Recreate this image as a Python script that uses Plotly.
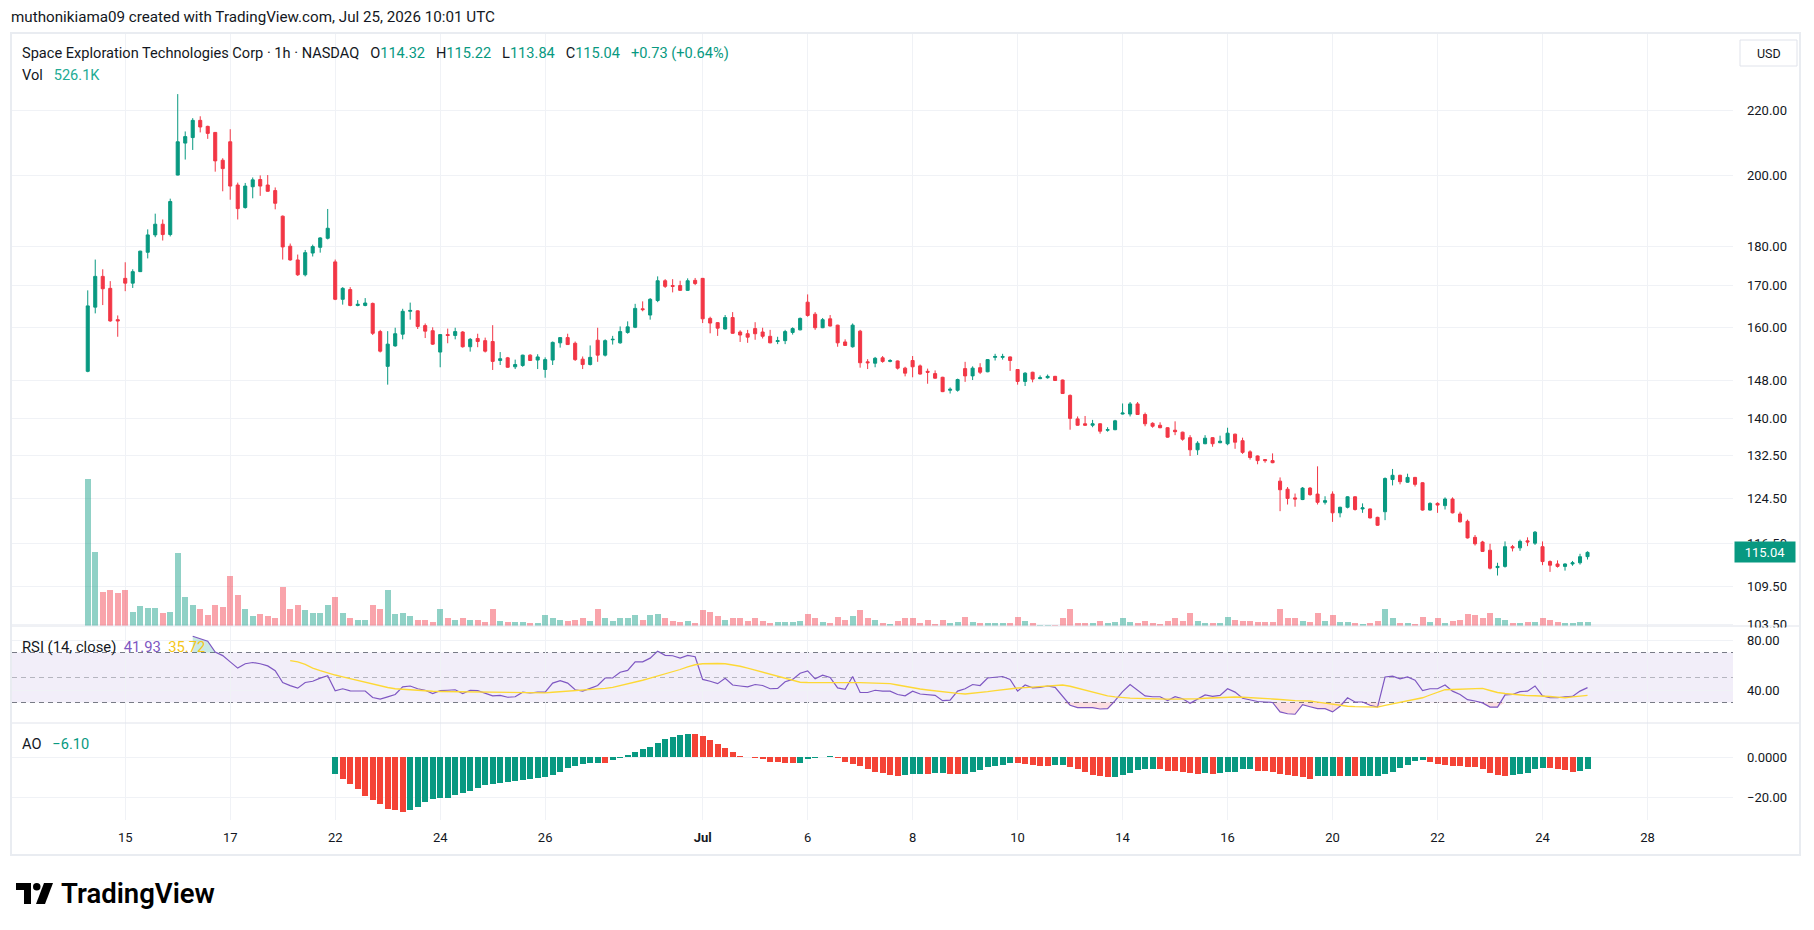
import math
import plotly.graph_objects as go

# ------------------------------------------------------------------ data
bar_index = list(range(201))

open_ = [
    150.0, 164.8, 172.4, 169.4, 161.8, 171.9, 170.7, 173.6, 178.6, 183.2,
    186.1, 183.3, 200.0, 209.6, 211.3, 216.7, 214.8, 212.9, 204.4, 210.0,
    197.1, 190.7, 196.6, 198.7, 197.1, 195.5, 188.3, 180.2, 176.6, 172.8,
    178.4, 179.9, 182.3, 176.1, 166.7, 169.1, 165.2, 165.2, 165.7, 159.0,
    151.1, 155.7, 158.4, 163.8, 163.9, 160.4, 159.2, 154.3, 158.3, 158.1,
    158.9, 155.5, 157.4, 156.9, 156.7, 152.4, 153.0, 151.0, 151.3, 153.6,
    152.5, 150.4, 152.5, 156.4, 157.6, 156.3, 152.7, 151.5, 157.0, 153.6,
    157.1, 156.4, 158.8, 160.0, 164.4, 162.9, 166.4, 171.3, 170.1, 170.1,
    168.9, 171.4, 171.9, 162.1, 161.1, 159.6, 162.3, 158.9, 158.5, 159.7,
    158.9, 157.9, 156.7, 156.9, 158.8, 159.4, 166.0, 163.1, 159.9, 162.0,
    160.5, 156.6, 155.5, 159.1, 152.1, 151.8, 153.0, 152.2, 152.3, 150.7,
    152.4, 151.2, 150.0, 149.5, 148.7, 145.9, 145.9, 150.6, 149.0, 150.8,
    149.9, 153.1, 153.1, 153.2, 150.4, 147.8, 149.8, 148.4, 148.6, 148.9,
    148.1, 144.8, 139.9, 138.9, 138.6, 138.9, 137.6, 137.7, 140.9, 140.9,
    143.0, 140.8, 139.0, 138.6, 138.1, 137.6, 137.2, 136.1, 133.7, 134.9,
    136.1, 135.1, 134.9, 136.8, 135.5, 133.3, 132.5, 131.8, 131.6, 127.7,
    126.2, 124.6, 124.3, 126.4, 125.3, 123.8, 125.3, 121.9, 122.9, 124.8,
    122.6, 122.6, 121.1, 122.1, 128.0, 128.8, 127.5, 128.4, 127.4, 122.4,
    123.6, 123.2, 124.4, 121.7, 120.4, 117.6, 116.8, 115.4, 112.5, 112.7,
    116.0, 115.8, 117.0, 116.6, 116.0, 113.5, 113.1, 112.7, 113.1, 113.3,
    114.32,
]

high = [
    168.9, 176.7, 174.2, 171.2, 162.8, 176.0, 174.2, 179.0, 184.7, 189.0,
    187.4, 193.2, 225.2, 213.2, 217.4, 218.0, 215.0, 213.0, 205.0, 213.9,
    197.8, 197.7, 199.3, 199.9, 200.0, 196.4, 188.5, 180.9, 178.0, 179.2,
    180.6, 182.6, 190.3, 176.7, 169.7, 169.7, 166.5, 167.0, 165.9, 159.4,
    159.1, 159.9, 164.4, 165.9, 164.0, 160.9, 160.0, 158.4, 159.7, 159.9,
    159.1, 157.5, 158.5, 157.6, 160.5, 154.3, 153.2, 152.6, 153.7, 153.8,
    153.8, 153.1, 156.7, 157.7, 158.5, 156.7, 153.3, 155.8, 159.9, 157.2,
    158.0, 160.2, 161.4, 165.6, 166.2, 167.0, 172.4, 171.7, 171.7, 171.3,
    171.9, 172.0, 172.0, 162.5, 161.2, 162.9, 163.6, 159.3, 159.4, 161.2,
    159.9, 159.4, 157.8, 159.4, 160.0, 162.3, 167.9, 163.6, 162.2, 162.9,
    160.6, 157.2, 160.9, 159.4, 152.7, 153.2, 153.4, 152.7, 152.4, 151.0,
    153.4, 151.5, 150.6, 150.2, 148.8, 146.5, 148.4, 152.1, 151.1, 151.8,
    152.7, 153.9, 153.9, 153.3, 150.5, 149.8, 149.9, 149.1, 149.3, 149.0,
    148.2, 145.0, 140.4, 140.5, 139.7, 139.0, 138.2, 139.7, 143.1, 143.4,
    143.4, 141.2, 139.2, 139.2, 138.2, 139.4, 137.3, 136.6, 135.4, 136.6,
    136.2, 136.5, 138.1, 136.9, 136.1, 133.6, 132.6, 131.9, 133.0, 128.4,
    126.6, 125.4, 126.6, 126.6, 130.5, 124.9, 125.8, 123.0, 124.9, 124.9,
    123.6, 122.7, 121.2, 128.4, 130.0, 128.9, 129.1, 128.5, 127.5, 123.8,
    123.8, 124.7, 124.7, 122.1, 120.7, 118.0, 117.0, 116.5, 113.3, 116.9,
    116.3, 117.2, 117.6, 118.7, 116.9, 113.7, 113.7, 113.2, 113.6, 114.8,
    115.22,
]

low = [
    149.8, 163.3, 165.3, 161.3, 157.8, 168.7, 169.5, 173.5, 177.0, 182.6,
    181.7, 182.8, 199.9, 204.6, 207.5, 212.9, 210.9, 201.0, 195.3, 192.9,
    187.4, 190.4, 193.3, 194.0, 195.2, 190.2, 176.7, 176.4, 172.5, 172.4,
    177.5, 178.5, 182.0, 166.5, 165.4, 165.0, 165.0, 165.0, 158.2, 154.2,
    147.1, 155.5, 157.2, 161.8, 159.6, 157.5, 155.9, 150.9, 156.3, 157.2,
    155.3, 154.4, 155.4, 154.2, 150.3, 151.4, 150.8, 150.5, 151.0, 152.3,
    150.5, 148.6, 151.4, 155.3, 155.9, 152.3, 150.5, 151.3, 152.1, 153.3,
    156.0, 156.2, 158.5, 159.8, 163.8, 161.8, 166.0, 169.5, 168.4, 168.8,
    168.8, 170.2, 161.0, 158.6, 158.0, 159.5, 158.5, 156.6, 156.4, 157.1,
    157.4, 156.3, 156.1, 156.1, 158.3, 159.3, 162.5, 159.4, 159.8, 160.2,
    155.5, 155.7, 155.3, 150.8, 150.5, 150.9, 151.9, 152.0, 150.4, 148.9,
    148.7, 149.3, 147.3, 148.4, 145.5, 145.2, 145.6, 147.7, 148.1, 149.4,
    149.8, 152.4, 152.6, 150.1, 147.1, 146.8, 147.6, 148.3, 148.4, 147.9,
    145.1, 137.7, 138.5, 138.5, 138.2, 136.9, 137.3, 137.6, 140.8, 140.4,
    140.7, 138.4, 138.1, 138.0, 136.1, 136.6, 135.5, 132.5, 132.7, 134.8,
    134.3, 135.0, 134.6, 133.9, 132.9, 131.8, 130.9, 131.2, 131.1, 122.2,
    123.4, 123.0, 124.2, 125.0, 123.4, 123.4, 120.3, 121.1, 122.7, 122.3,
    121.9, 120.9, 119.6, 120.6, 126.9, 127.1, 127.4, 126.7, 122.3, 122.3,
    121.9, 122.5, 121.8, 120.2, 117.4, 116.2, 115.1, 112.2, 111.2, 112.5,
    115.2, 115.3, 116.1, 116.3, 112.9, 111.8, 112.5, 112.0, 112.8, 113.0,
    113.84,
]

close = [
    165.1, 172.4, 169.3, 161.5, 161.5, 170.7, 173.6, 178.9, 183.2, 186.1,
    183.3, 192.4, 210.0, 211.6, 216.7, 214.6, 212.6, 204.2, 201.9, 196.8,
    190.4, 196.8, 198.6, 196.8, 195.3, 191.9, 180.0, 176.6, 172.8, 178.5,
    180.1, 182.4, 185.0, 166.7, 169.4, 165.2, 165.5, 165.8, 158.6, 154.5,
    156.1, 158.5, 163.8, 164.0, 160.2, 159.1, 156.1, 158.3, 158.1, 159.0,
    155.5, 157.2, 156.7, 154.5, 152.2, 152.8, 150.9, 151.5, 153.6, 152.4,
    153.2, 152.6, 156.5, 157.6, 156.0, 152.6, 151.5, 153.1, 153.6, 156.9,
    157.2, 159.0, 160.1, 164.5, 164.2, 166.7, 171.3, 169.9, 169.9, 168.9,
    171.3, 170.6, 162.0, 161.0, 159.8, 162.3, 158.6, 158.2, 157.7, 158.5,
    157.9, 156.4, 156.9, 159.0, 159.7, 162.1, 162.8, 159.9, 161.8, 160.3,
    156.4, 155.8, 160.5, 151.9, 151.9, 152.9, 152.2, 152.4, 150.7, 149.6,
    151.0, 149.4, 149.8, 148.5, 145.6, 146.1, 148.2, 149.0, 150.7, 149.8,
    152.6, 153.3, 153.3, 152.4, 147.8, 149.6, 148.3, 148.6, 148.9, 148.0,
    145.2, 140.0, 138.6, 138.6, 138.9, 137.4, 137.7, 139.5, 141.1, 143.0,
    140.8, 138.9, 138.4, 138.1, 136.2, 137.3, 135.8, 133.7, 135.0, 136.0,
    134.9, 135.4, 137.0, 135.2, 133.2, 132.2, 131.6, 131.6, 131.2, 126.1,
    124.5, 124.4, 126.4, 125.2, 123.8, 124.1, 121.9, 122.9, 124.8, 122.5,
    122.8, 121.0, 119.7, 128.2, 128.8, 127.6, 128.4, 127.1, 122.4, 123.6,
    123.3, 124.4, 121.9, 120.3, 117.5, 116.5, 115.2, 112.4, 112.7, 116.0,
    115.8, 116.9, 116.8, 118.5, 113.5, 112.9, 112.7, 113.1, 113.3, 114.31,
    115.04,
]

volume_m = [
    18.3, 9.24, 4.27, 4.5, 4.04, 4.5, 1.76, 2.52, 2.28, 2.28,
    1.64, 1.76, 9.07, 3.63, 2.63, 2.05, 1.40, 2.63, 2.40, 6.26,
    3.86, 2.05, 1.29, 1.52, 1.29, 1.05, 4.86, 2.05, 2.63, 1.93,
    1.64, 1.64, 2.63, 3.63, 1.64, 1.05, 0.76, 0.76, 2.63, 2.16,
    4.5, 1.52, 1.64, 1.29, 0.76, 0.76, 0.53, 2.05, 0.94, 0.76,
    0.94, 0.76, 0.76, 0.53, 2.05, 0.64, 0.53, 0.53, 0.53, 0.41,
    0.41, 1.40, 0.94, 0.76, 0.64, 0.76, 0.94, 0.64, 2.16, 1.05,
    0.64, 1.05, 0.94, 1.40, 0.76, 1.40, 1.52, 0.94, 0.64, 0.53,
    0.64, 0.41, 1.93, 1.76, 1.29, 0.76, 1.05, 0.94, 0.64, 1.05,
    0.64, 0.41, 0.53, 0.53, 0.53, 0.64, 1.52, 1.05, 0.53, 0.41,
    1.17, 0.76, 1.29, 1.93, 0.94, 0.76, 0.41, 0.29, 0.64, 1.05,
    1.05, 0.41, 0.76, 0.29, 0.76, 0.41, 0.53, 1.17, 0.53, 0.41,
    0.41, 0.41, 0.41, 0.41, 1.17, 0.64, 0.41, 0.18, 0.18, 0.18,
    0.94, 2.05, 0.41, 0.41, 0.41, 0.64, 0.41, 0.53, 1.05, 0.53,
    0.41, 0.64, 0.41, 0.29, 0.64, 0.94, 0.64, 1.64, 0.64, 0.41,
    0.41, 0.41, 1.17, 0.76, 0.64, 0.64, 0.53, 0.53, 0.53, 2.05,
    0.94, 0.94, 0.64, 0.53, 1.64, 0.64, 1.40, 0.53, 0.53, 0.41,
    0.29, 0.41, 0.64, 2.16, 1.05, 0.41, 0.41, 0.29, 1.17, 0.53,
    1.05, 0.41, 0.64, 0.76, 1.52, 1.40, 0.94, 1.64, 1.05, 0.76,
    0.41, 0.41, 0.53, 0.53, 1.05, 0.76, 0.53, 0.41, 0.41, 0.53,
    0.526,
]

rsi = [None] * 14 + [
    83, 81, 79, 70.4, 67.5, 62.5,
    57.5, 61, 62, 61, 59.3, 55.5, 46, 43.5, 41.5, 46,
    47, 49.5, 51.5, 39.3, 41, 39.3, 39.5, 39.2, 34, 32.7,
    34.5, 36.4, 42.5, 43.2, 41, 39.8, 37.2, 39.5, 39.8, 40.2,
    37.2, 39.8, 39.5, 37.6, 35.3, 35.7, 34.2, 34.6, 38.3, 37.6,
    38.3, 38.3, 45.5, 47.4, 45.5, 40.2, 39.1, 41.3, 43.6, 49.6,
    49.6, 54.2, 55.7, 62.5, 62.5, 65.5, 71.1, 67.7, 67.4, 65.5,
    67.7, 66.6, 48.5, 47, 45.1, 49.3, 44, 43.2, 42.5, 44.4,
    43.6, 41, 41.3, 46.6, 48.5, 53.4, 55.3, 48.9, 51.9, 50,
    41.7, 40.6, 50.8, 38, 38, 39.8, 39.1, 39.1, 36.4, 35.3,
    39.1, 36.8, 36.4, 35.7, 31.5, 31.9, 39.1, 41, 44.4, 43.6,
    49.6, 50.4, 50.8, 48.5, 39.1, 44, 41.7, 42.1, 43.2, 42.1,
    35.3, 27.8, 25.9, 25.9, 25.9, 24.8, 25.1, 31.5, 38.7, 44.4,
    39.8, 35.3, 34.6, 34.6, 31.5, 34.6, 33, 29.3, 32.7, 36.1,
    34.9, 35.7, 41, 38.3, 33.4, 31.9, 30.8, 30.4, 30, 22.5,
    21, 20.6, 28.2, 26.6, 25.1, 25.1, 22.5, 27, 33.8, 30.4,
    30.4, 27.8, 26.3, 50.4, 51.1, 48.9, 50.4, 47.8, 39.5, 41,
    41, 44, 39.1, 36.4, 32.3, 31.2, 29.7, 26.3, 26.3, 36.1,
    36.4, 38.7, 39.1, 43.2, 35.3, 33.8, 33.8, 34.6, 34.9, 39.1,
    41.93,
]

rsi_ma = [None] * 27 + [
    63.5, 62.5, 60.5,
    57.5, 55.5, 53.5, 52.0, 50.5, 49.0, 47.5, 46.0, 44.5, 43.0,
    42.0, 41.0, 40.5, 40.0, 39.5, 39.2, 39.0, 38.8, 38.7, 38.7,
    38.7, 38.7, 38.6, 38.5, 38.4, 38.2, 38.0, 37.8, 37.6, 37.6,
    37.6, 37.7, 38.2, 38.6, 39.0, 39.3, 39.5, 40.0, 40.6, 41.3,
    42.1, 43.4, 44.8, 46.2, 47.8, 49.5, 51.2, 52.7, 54.2, 56.4,
    58.5, 60.2, 61.0, 61.3, 61.2, 61.0, 60.2, 59.0, 57.5, 55.8,
    54.2, 52.5, 50.8, 49.3, 47.5, 46.2, 46.0, 45.9, 45.9, 45.9,
    45.9, 45.9, 45.9, 45.9, 45.7, 45.5, 45.3, 45.1, 44.0, 42.8,
    41.7, 40.8, 40.0, 39.2, 38.3, 37.8, 37.3, 36.8, 37.3, 38.0,
    38.7, 39.5, 40.3, 41.3, 41.6, 41.9, 42.2, 42.5, 43.0, 43.5,
    44.0, 43.0, 41.5, 40.2, 38.5, 36.8, 35.3, 34.5, 33.8, 33.5,
    33.3, 33.0, 32.8, 32.7, 32.7, 32.7, 32.7, 32.7, 33.0, 33.4,
    33.8, 34.2, 34.6, 34.4, 34.2, 34.0, 33.8, 33.2, 32.8, 32.4,
    31.8, 31.5, 31.3, 31.2, 30.3, 29.4, 28.5, 27.4, 27.0, 26.7,
    26.5, 26.4, 26.3, 27.7, 29.0, 30.4, 31.6, 32.8, 33.8, 36.0,
    38.2, 40.2, 40.4, 40.6, 40.9, 41.1, 41.3, 39.6, 38.0, 37.2,
    36.5, 35.7, 35.5, 35.4, 35.3, 34.8, 34.3, 33.8, 34.5, 35.1,
    35.72,
]

ao = [None] * 33 + [
    -8.6, -10.8, -13.2, -15.7, -19.5, -21.6, -23.1,
    -25.6, -26.5, -27.2, -26.2, -24.7, -22.6, -20.8, -20.6, -20.2, -19.0,
    -17.9, -16.7, -15.3, -14.1, -13.6, -12.9, -12.5, -11.8, -11.5, -10.8,
    -10.3, -9.9, -8.7, -7.3, -5.6, -4.7, -3.5, -3.1, -3.1, -3.2,
    -1.6, -0.5, 0.9, 2.6, 4.0, 4.9, 7.1, 8.9, 9.9, 11.0,
    11.5, 11.3, 10.3, 8.5, 6.6, 4.5, 2.4, 0.5, -0.1, -0.7,
    -1.2, -2.6, -2.7, -2.8, -2.9, -2.8, -1.2, -0.7, -0.2, 0.4,
    -0.7, -2.6, -3.3, -4.5, -6.1, -7.3, -7.8, -8.7, -9.2, -8.7,
    -8.6, -8.5, -8.6, -8.0, -7.9, -8.5, -8.6, -8.2, -7.5, -6.6,
    -5.2, -4.5, -3.8, -3.1, -3.2, -3.3, -4.0, -4.5, -4.6, -4.0,
    -3.9, -5.2, -5.9, -7.3, -8.7, -9.5, -9.8, -9.7, -8.7, -7.8,
    -6.6, -5.9, -5.8, -5.9, -6.8, -6.9, -7.3, -7.8, -8.2, -8.1,
    -8.2, -8.1, -7.3, -7.2, -6.1, -6.0, -6.8, -6.9, -7.3, -8.2,
    -8.7, -9.6, -10.1, -10.8, -9.6, -9.5, -9.4, -9.6, -9.5, -9.6,
    -9.5, -9.4, -9.2, -8.2, -7.3, -5.6, -4.2, -2.1, -1.4, -2.6,
    -3.3, -4.0, -4.5, -4.6, -4.9, -5.2, -6.1, -7.8, -8.7, -9.2,
    -8.7, -8.6, -7.8, -6.1, -5.6, -5.7, -5.8, -6.6, -7.3, -6.8,
    -6.1,
]

date_tick_bars = [5, 19, 33, 47, 61, 82, 96, 110, 124, 138, 152, 166, 180, 194, 208]
date_tick_labels = ["15", "17", "22", "24", "26", "<b>Jul</b>", "6", "8", "10",
                    "14", "16", "20", "22", "24", "28"]
price_ticks = [103.5, 109.5, 116.5, 124.5, 132.5, 140, 148, 160, 170, 180, 200, 220]
price_tick_labels = ["103.50", "109.50", "116.50", "124.50", "132.50", "140.00",
                     "148.00", "160.00", "170.00", "180.00", "200.00", "220.00"]
rsi_ticks = [80, 40]
rsi_tick_labels = ["80.00", "40.00"]
ao_ticks = [0, -20]
ao_tick_labels = ["0.0000", "\u221220.00"]

last_price = 115.04

# ------------------------------------------------------------------ style
W, H = 1814, 930
UP, DN = "#089981", "#F23645"
UP_VOL, DN_VOL = "rgba(8,153,129,0.45)", "rgba(242,54,69,0.45)"
AO_UP, AO_DN = "#089981", "#F44336"
GRID = "#F0F2F6"
TXT = "#131722"
FONT = "Roboto, Arial, sans-serif"


def px(x):
    return x / W


def py(y):
    return 1 - y / H


PLOT_L, PLOT_R = 12, 1733
FRAME_R = 1800
PRICE_TOP, PRICE_BOT = 33, 626
RSI_BOT = 723
AO_BOT = 820
LABEL_X = 1745
x_dom = [px(PLOT_L), px(PLOT_R)]
x_range = [-10.1, 219.4]
price_range = [math.log10(103.27), math.log10(246.3)]

candle_up = [c >= o for o, c in zip(open_, close)]
vol_colors = [UP_VOL if u else DN_VOL for u in candle_up]

ao_colors = []
prev = None
for v in ao:
    if v is None or prev is None:
        ao_colors.append(AO_UP)
    else:
        ao_colors.append(AO_UP if v >= prev else AO_DN)
    if v is not None:
        prev = v

ob_base = [70 if r is not None else None for r in rsi]
ob_top = [max(r, 70) if r is not None else None for r in rsi]
os_base = [30 if r is not None else None for r in rsi]
os_bot = [min(r, 30) if r is not None else None for r in rsi]

fig = go.Figure()

fig.add_trace(go.Bar(x=bar_index, y=volume_m, marker=dict(color=vol_colors, line=dict(width=0)),
                     width=0.8, xaxis="x", yaxis="y", hoverinfo="skip"))
fig.add_trace(go.Candlestick(
    x=bar_index, open=open_, high=high, low=low, close=close,
    xaxis="x", yaxis="y5", whiskerwidth=0,
    increasing=dict(line=dict(color=UP, width=1), fillcolor=UP),
    decreasing=dict(line=dict(color=DN, width=1), fillcolor=DN),
    hoverinfo="skip"))

clear = dict(width=0, color="rgba(0,0,0,0)")
fig.add_trace(go.Scatter(x=bar_index, y=ob_base, mode="lines", line=clear,
                         xaxis="x2", yaxis="y2", hoverinfo="skip"))
fig.add_trace(go.Scatter(x=bar_index, y=ob_top, mode="lines", line=clear, fill="tonexty",
                         fillcolor="rgba(8,153,129,0.22)", xaxis="x2", yaxis="y2", hoverinfo="skip"))
fig.add_trace(go.Scatter(x=bar_index, y=os_base, mode="lines", line=clear,
                         xaxis="x2", yaxis="y2", hoverinfo="skip"))
fig.add_trace(go.Scatter(x=bar_index, y=os_bot, mode="lines", line=clear, fill="tonexty",
                         fillcolor="rgba(242,54,69,0.16)", xaxis="x2", yaxis="y2", hoverinfo="skip"))
fig.add_trace(go.Scatter(x=bar_index, y=rsi, mode="lines", line=dict(color="#7E57C2", width=1.2),
                         xaxis="x2", yaxis="y2", hoverinfo="skip"))
fig.add_trace(go.Scatter(x=bar_index, y=rsi_ma, mode="lines", line=dict(color="#FDD835", width=1.3),
                         xaxis="x2", yaxis="y2", hoverinfo="skip"))
fig.add_trace(go.Bar(x=bar_index, y=ao, marker=dict(color=ao_colors, line=dict(width=0)),
                     width=0.8, xaxis="x3", yaxis="y3", hoverinfo="skip"))

xcommon = dict(domain=x_dom, range=x_range, tickmode="array", tickvals=date_tick_bars,
               ticktext=date_tick_labels, showgrid=True, gridcolor=GRID, gridwidth=1,
               zeroline=False, showline=False, fixedrange=True, automargin=False)
ycommon = dict(side="right", showgrid=True, gridcolor=GRID, gridwidth=1, zeroline=False,
               showline=False, showticklabels=False, ticks="", fixedrange=True, automargin=False)

fig.update_layout(
    width=W, height=H, autosize=False,
    margin=dict(l=0, r=0, t=0, b=0),
    paper_bgcolor="white", plot_bgcolor="rgba(0,0,0,0)",
    showlegend=False, hovermode=False,
    boxgap=0.42, bargap=0,
    font=dict(family=FONT, color=TXT, size=12),
    xaxis=dict(xcommon, anchor="y", showticklabels=False, rangeslider=dict(visible=False)),
    xaxis2=dict(xcommon, anchor="y2", matches="x", showticklabels=False),
    xaxis3=dict(xcommon, anchor="y3", matches="x", showticklabels=True, ticks="outside",
                ticklen=5, tickcolor="rgba(0,0,0,0)", tickfont=dict(size=13, color=TXT, family=FONT)),
    yaxis=dict(domain=[py(PRICE_BOT), py(PRICE_TOP)], range=[0, 73.6], visible=False,
               showgrid=False, anchor="x", fixedrange=True),
    yaxis5=dict(ycommon, overlaying="y", anchor="x", type="log", range=price_range,
                tickmode="array", tickvals=price_ticks),
    yaxis2=dict(ycommon, domain=[py(RSI_BOT), py(PRICE_BOT)], anchor="x2", range=[13.6, 91.2],
                tickmode="array", tickvals=rsi_ticks),
    yaxis3=dict(ycommon, domain=[py(AO_BOT), py(RSI_BOT)], anchor="x3", range=[-31.3, 16.9],
                tickmode="array", tickvals=ao_ticks),
)

shapes = []
shapes.append(dict(type="rect", xref="paper", yref="y2", x0=px(PLOT_L), x1=px(PLOT_R), y0=30, y1=70,
                   fillcolor="rgba(126,87,194,0.10)", line=dict(width=0), layer="below"))
for lvl, col in [(70, "#787B86"), (50, "rgba(120,123,134,0.5)"), (30, "#787B86")]:
    shapes.append(dict(type="line", xref="paper", yref="y2", x0=px(PLOT_L), x1=px(PLOT_R), y0=lvl, y1=lvl,
                       line=dict(color=col, width=1, dash="5px,4px"), layer="below"))
for yy in [PRICE_BOT, RSI_BOT]:
    shapes.append(dict(type="line", xref="paper", yref="paper", x0=px(PLOT_L), x1=px(FRAME_R),
                       y0=py(yy), y1=py(yy), line=dict(color="#E0E3EB", width=1), layer="above"))
shapes.append(dict(type="rect", xref="paper", yref="paper", x0=px(PLOT_L - 1), x1=px(FRAME_R),
                   y0=py(855), y1=py(PRICE_TOP), line=dict(color="#E9ECF1", width=2),
                   fillcolor="rgba(0,0,0,0)", layer="above"))
shapes.append(dict(type="rect", xref="paper", yref="paper", x0=px(1740), x1=px(1797),
                   y0=py(66), y1=py(40), line=dict(color="#E0E3EB", width=1),
                   fillcolor="white", layer="above"))


def path(points):
    return "M " + " L ".join(f"{px(a):.6f},{py(b):.6f}" for a, b in points) + " Z"


shapes.append(dict(type="path", xref="paper", yref="paper",
                   path=path([(16, 883), (31, 883), (31, 904), (24, 904), (24, 890), (16, 890)]),
                   fillcolor="#000000", line=dict(width=0), layer="above"))
shapes.append(dict(type="circle", xref="paper", yref="paper", x0=px(33), x1=px(40.5),
                   y0=py(890.5), y1=py(883), fillcolor="#000000", line=dict(width=0), layer="above"))
shapes.append(dict(type="path", xref="paper", yref="paper",
                   path=path([(44, 883), (53, 883), (45, 904), (36, 904)]),
                   fillcolor="#000000", line=dict(width=0), layer="above"))
fig.update_layout(shapes=shapes)

G = "#089981"
nb = "\u00a0"
gap = nb * 3
header = (f"Space Exploration Technologies Corp · 1h · NASDAQ{gap}"
          f"O<span style='color:{G}'>114.32</span>{gap}"
          f"H<span style='color:{G}'>115.22</span>{gap}"
          f"L<span style='color:{G}'>113.84</span>{gap}"
          f"C<span style='color:{G}'>115.04</span>{gap}"
          f"<span style='color:{G}'>+0.73 (+0.64%)</span>")


def ann(x, y, text, size=13, color=TXT, xanchor="left", yref="paper", **kw):
    yy = py(y) if yref == "paper" else y
    return dict(xref="paper", yref=yref, x=px(x), y=yy, text=text, showarrow=False,
                xanchor=xanchor, yanchor="middle", font=dict(size=size, color=color, family=FONT), **kw)


annotations = [
    ann(9, 17, "muthonikiama09 created with TradingView.com, Jul 25, 2026 10:01 UTC", size=15.2),
    ann(20, 53, header, size=14.6),
    ann(20, 75, f"Vol{gap}<span style='color:#22AB94'>526.1K</span>", size=14.6),
    ann(20, 647, f"RSI (14, close){nb}{nb}<span style='color:#7E57C2'>41.93</span>{nb}{nb}"
                 f"<span style='color:#F5C518'>35.72</span>", size=14.8),
    ann(20, 744, f"AO{gap}<span style='color:{G}'>\u22126.10</span>", size=14.6),
    ann(1768.5, 53, "USD", size=12.5, xanchor="center"),
]
tv = ann(59, 893, "TradingView", size=27.5, color="#000000")
tv["font"]["weight"] = 600
annotations.append(tv)

for v, t in zip(price_ticks, price_tick_labels):
    annotations.append(ann(LABEL_X, math.log10(v), t, size=13, yref="y5"))
for v, t in zip(rsi_ticks, rsi_tick_labels):
    annotations.append(ann(LABEL_X, v, t, size=13, yref="y2"))
for v, t in zip(ao_ticks, ao_tick_labels):
    annotations.append(ann(LABEL_X, v, t, size=13, yref="y3"))

# pane border clips the lowest price label
annotations.append(dict(xref="paper", yref="paper", x=px(PLOT_R + 1), y=py(PRICE_BOT + 0.5),
                        xanchor="left", yanchor="top", text=nb, showarrow=False,
                        bgcolor="white", width=62, height=7, font=dict(size=4), borderpad=0))
# last price tag
annotations.append(dict(xref="paper", yref="y5", x=px(1734), y=math.log10(last_price), text="115.04",
                        showarrow=False, xanchor="left", yanchor="middle", bgcolor=UP, width=58,
                        height=18, align="center", font=dict(size=13, color="white", family=FONT),
                        borderpad=1))
fig.update_layout(annotations=annotations)

fig.write_html("out.html", include_plotlyjs=True,
               config={"displayModeBar": False, "staticPlot": True})
